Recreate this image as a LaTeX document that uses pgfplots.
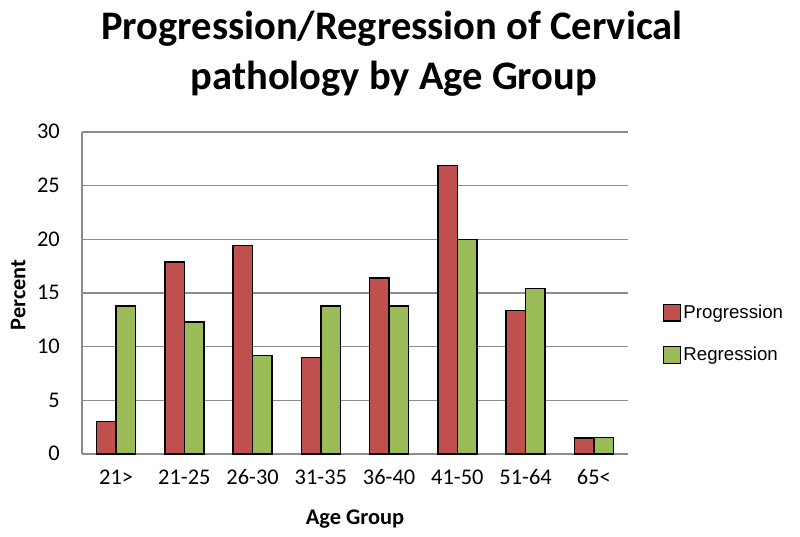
\documentclass[border=0pt]{standalone}
\usepackage{pgfplots}
\pgfplotsset{compat=1.18}
\usepackage{fontspec}
\setmainfont{Carlito}
\newfontfamily\legendfont{Liberation Sans}
\definecolor{progred}{HTML}{C0504D}
\definecolor{reggreen}{HTML}{9BBB59}
\definecolor{gridgray}{HTML}{8C8C8C}

\begin{document}
\begin{tikzpicture}
\useasboundingbox (0,0) rectangle (600pt,402pt);
% title, centred over the whole chart
\node[anchor=base,font=\bfseries\fontsize{30.4}{34}\selectfont,inner sep=0pt] at (294pt,372pt) {Progression/Regression of Cervical};
\node[anchor=base,font=\bfseries\fontsize{30.4}{34}\selectfont,inner sep=0pt] at (295.5pt,334.5pt) {pathology by Age Group};
\begin{axis}[
  at={(61.5pt,61.5pt)}, anchor=south west,
  scale only axis, width=409.5pt, height=241.5pt,
  ybar=0pt, bar width=14.6pt,
  xmin=-0.5, xmax=7.5, ymin=0, ymax=30,
  xtick=data,
  xticklabels={21>,21-25,26-30,31-35,36-40,41-50,51-64,65<},
  ytick={0,5,...,30},
  major tick length=0pt,
  axis x line*=bottom, axis y line*=left,
  axis line style={gridgray, line width=1pt},
  ymajorgrids, grid style={gridgray, line width=1pt},
  /pgf/number format/assume math mode=true,
  tick label style={font=\fontsize{16.8}{18}\selectfont, inner sep=0pt},
  xticklabel style={anchor=base, yshift=-23pt},
  yticklabel style={anchor=base east, xshift=-16.5pt, yshift=-5pt},
  xlabel={Age Group}, ylabel={Percent},
  label style={font=\bfseries\fontsize{16.8}{18}\selectfont, inner sep=0pt},
  xlabel style={at={(axis description cs:0.5,0)}, anchor=base, yshift=-53pt},
  ylabel style={at={(axis description cs:-0.117,0.494)}, anchor=center},
  legend style={draw=none, fill=none, at={(1.064,0.373)}, anchor=west,
    font=\legendfont\fontsize{14}{16}\selectfont, inner sep=0pt,
    row sep=18.5pt, nodes={inner xsep=2pt, inner ysep=0pt}},
  legend cell align=left,
  legend image code/.code={\draw[#1, line width=0.8pt] (0pt,-6.2pt) rectangle (12.4pt,6.2pt);},
]
\addplot[fill=progred, draw=black, line width=1pt] coordinates {
  (0,3.0) (1,17.9) (2,19.4) (3,9.0) (4,16.4) (5,26.9) (6,13.4) (7,1.5)};
\addplot[fill=reggreen, draw=black, line width=1pt] coordinates {
  (0,13.8) (1,12.3) (2,9.2) (3,13.8) (4,13.8) (5,20.0) (6,15.4) (7,1.55)};
\legend{Progression,Regression}
\end{axis}
\end{tikzpicture}
\end{document}
